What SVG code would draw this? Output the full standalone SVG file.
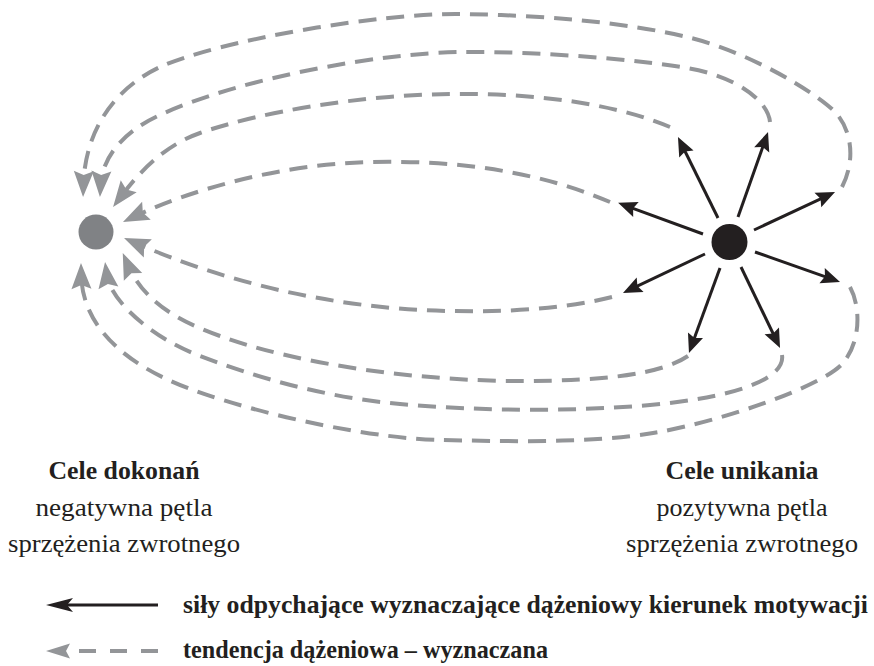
<svg xmlns="http://www.w3.org/2000/svg" width="874" height="666" viewBox="0 0 874 666">
  <style>
    .tend { fill: none; stroke: #939598; stroke-width: 4; stroke-dasharray: 18 10; marker-end: url(#headGrey); }
    .force { fill: none; stroke: #231f20; stroke-width: 3; marker-end: url(#headBlack); }
    .label { font-family: "Liberation Serif", "DejaVu Serif", serif; font-size: 25px; fill: #231f20; }
    .bold { font-weight: bold; }
  </style>
  <defs>
    <marker id="headBlack" markerUnits="userSpaceOnUse" orient="auto" overflow="visible" markerWidth="1" markerHeight="1" refX="0" refY="0">
      <path d="M10,0 L-9,-8 L-6,0 L-9,8 Z" fill="#231f20"/>
    </marker>
    <marker id="headGrey" markerUnits="userSpaceOnUse" orient="auto" overflow="visible" markerWidth="1" markerHeight="1" refX="0" refY="0">
      <path d="M12,0 L-14,-10 L-10,0 L-14,10 Z" fill="#939598"/>
    </marker>
  </defs>

  <!-- achievement goal: grey attractor -->
  <g id="node-achievement">
    <circle cx="96" cy="232" r="17.5" fill="#808285"/>
  </g>

  <!-- avoidance goal: black repeller -->
  <g id="node-avoidance">
    <circle cx="729.5" cy="242" r="18" fill="#231f20"/>
  </g>

  <g id="connectors">
    <!-- repelling forces -->
    <path class="force" d="M718,218 L682.4,146"/>
    <path class="force" d="M738,217 L764.7,141.4"/>
    <path class="force" d="M754,230 L826,196.3"/>
    <path class="force" d="M703,234 L627.5,206.3"/>
    <path class="force" d="M705,254 L632,288.7"/>
    <path class="force" d="M720,268 L692.4,343.6"/>
    <path class="force" d="M741,267 L775.7,339"/>
    <path class="force" d="M755,252 L830.6,278.6"/>

    <!-- approach tendencies, upper loops -->
    <path class="tend" d="M842,187 C856,160 852,128 833,110 C814,92 750,52 687,37 C624,22 540,15 460,14 C380,13 220,40 160,67 C115,88 85,130 83.4,185"/>
    <path class="tend" d="M770,122 C768,100 735,76 687,68 C639,60 540,51 460,52 C380,53 240,78 160,115 C120,133 102,160 100.6,185"/>
    <path class="tend" d="M670,127 C610,102 530,93 450,94 C360,95 260,112 200,133 C160,147 135,178 120.3,197.5"/>
    <path class="tend" d="M610,202 C540,172 460,160 370,162 C280,164 190,190 133.8,216.8"/>

    <!-- approach tendencies, lower loops -->
    <path class="tend" d="M612,297 C560,310 500,312 450,311 C330,309 220,280 135,242.8"/>
    <path class="tend" d="M688,356 C660,375 600,381 520,381 C420,381 300,365 220,336 C175,320 143,300 127.5,264"/>
    <path class="tend" d="M782,355 C786,380 730,398 650,405 C570,412 480,411 400,404 C320,397 250,375 200,356 C150,337 110,300 106.6,274"/>
    <path class="tend" d="M850,287 C860,305 862,340 843,363 C824,386 720,422 653,433 C586,444 500,441 440,440 C380,439 270,418 193,390 C116,362 82,320 81.2,275"/>
  </g>

  <!-- captions -->
  <g id="caption-achievement" class="label" text-anchor="middle">
    <text class="bold" x="124" y="479" textLength="151" lengthAdjust="spacingAndGlyphs">Cele dokonań</text>
    <text x="124" y="516" textLength="177" lengthAdjust="spacingAndGlyphs">negatywna pętla</text>
    <text x="124" y="552" textLength="232" lengthAdjust="spacingAndGlyphs">sprzężenia zwrotnego</text>
  </g>
  <g id="caption-avoidance" class="label" text-anchor="middle">
    <text class="bold" x="742" y="479" textLength="153" lengthAdjust="spacingAndGlyphs">Cele unikania</text>
    <text x="742" y="516" textLength="171" lengthAdjust="spacingAndGlyphs">pozytywna pętla</text>
    <text x="742" y="552" textLength="232" lengthAdjust="spacingAndGlyphs">sprzężenia zwrotnego</text>
  </g>

  <!-- legend -->
  <g id="legend">
    <path d="M158,605 L56,605" fill="none" stroke="#231f20" stroke-width="3"/>
    <path d="M46,605 L73,598 L67,605 L73,612 Z" fill="#231f20"/>
    <text class="label bold" x="183" y="613" textLength="685" lengthAdjust="spacingAndGlyphs">siły odpychające wyznaczające dążeniowy kierunek motywacji</text>
    <path d="M158,651 L79,651" fill="none" stroke="#939598" stroke-width="4" stroke-dasharray="17 14"/>
    <path d="M46,651 L70,643.5 L66,651 L70,658.5 Z" fill="#939598"/>
    <text class="label bold" x="183" y="658" textLength="365" lengthAdjust="spacingAndGlyphs">tendencja dążeniowa – wyznaczana</text>
  </g>
</svg>
